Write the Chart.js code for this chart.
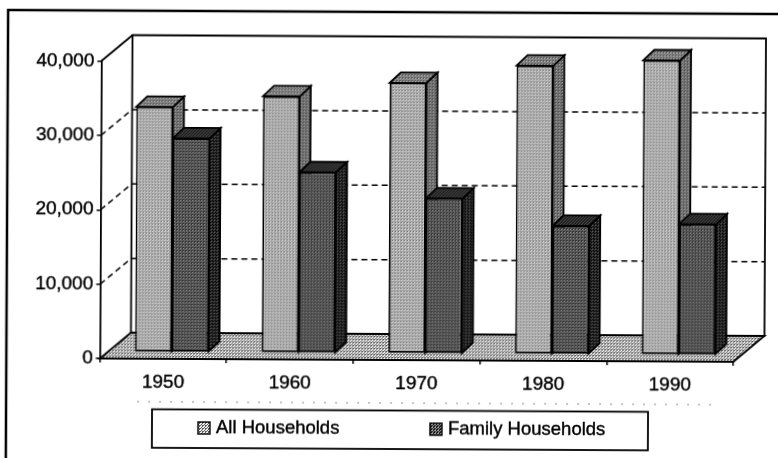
<!DOCTYPE html>
<html>
<head>
<meta charset="utf-8">
<title>Households</title>
<script src="https://cdn.jsdelivr.net/npm/chart.js@4"></script>
<style>
  html, body { margin: 0; padding: 0; background: #fff; overflow: hidden; }
  /* the page was scanned slightly crooked */
  #wrap { width: 778px; height: 460px; transform: rotate(0.3deg); }
</style>
</head>
<body>
<div id="wrap"><canvas id="chart" width="778" height="460"></canvas></div>
<script>
var years = ['1950', '1960', '1970', '1980', '1990'];
var allHouseholds = [33000, 34500, 36400, 38800, 39600];
var familyHouseholds = [28800, 24300, 20900, 17300, 17600];
var seriesNames = ['All Households', 'Family Households'];

var FONT = '"Liberation Sans", Arial, sans-serif';
var WALL = { dx: 31, dy: -26 };    // depth of the box
var ROW = { dx: 8.5, dy: -6.5 };   // where the bars stand on the floor
var BAR = { dx: 11, dy: -10.5 };   // depth of one bar

/* dithered greys, like the halftone of the scan. 3px cell: a 1px checker
   melts to flat grey once the page is rotated */
var CELL = [0, 7, 3, 6, 5, 2, 4, 1, 8];
function dither(level, ink, paper) {
  var c = document.createElement('canvas');
  c.width = c.height = 3;
  var x = c.getContext('2d');
  CELL.forEach(function (b, i) {
    x.fillStyle = (b + 0.5) / 9 < level ? ink : paper;
    x.fillRect(i % 3, Math.floor(i / 3), 1, 1);
  });
  return x.createPattern(c, 'repeat');
}
var fills = {
  allFront: dither(0.45, '#555', '#f2f2f2'),
  allTop: dither(0.55, '#333', '#ddd'),
  allSide: dither(0.55, '#222', '#d4d4d4'),
  famFront: dither(0.6, '#111', '#aaa'),
  famTop: dither(0.65, '#000', '#888'),
  famSide: dither(0.75, '#000', '#aaa'),
  floor: dither(0.45, '#555', '#f2f2f2')
};

function poly(ctx, pts, fill) {
  ctx.beginPath();
  pts.forEach(function (p, i) { if (i) ctx.lineTo(p[0], p[1]); else ctx.moveTo(p[0], p[1]); });
  ctx.closePath();
  if (fill) { ctx.fillStyle = fill; ctx.fill(); }
  ctx.stroke();
}
function line(ctx, x1, y1, x2, y2) {
  ctx.beginPath(); ctx.moveTo(x1, y1); ctx.lineTo(x2, y2); ctx.stroke();
}
/* side and top of one series, from its bar elements */
function extrude(ctx, meta, side, top) {
  ctx.strokeStyle = '#000';
  ctx.lineWidth = 1.8;
  meta.data.forEach(function (el) {
    var l = el.x - el.width / 2, r = el.x + el.width / 2, t = el.y, b = el.base;
    poly(ctx, [[r, t], [r + BAR.dx, t + BAR.dy], [r + BAR.dx, b + BAR.dy], [r, b]], side);
    poly(ctx, [[l, t], [l + BAR.dx, t + BAR.dy], [r + BAR.dx, t + BAR.dy], [r, t]], top);
  });
}

/* frame, box walls, floor and dashed gridlines, all taken from the scales */
var box3d = {
  id: 'box3d',
  beforeDatasetsDraw: function (chart) {
    var ctx = chart.ctx, a = chart.chartArea, yS = chart.scales.y;
    ctx.save();
    ctx.strokeStyle = '#000';
    ctx.lineWidth = 2.5;
    ctx.strokeRect(7, 12, 800, 500);

    ctx.lineWidth = 1.8;
    poly(ctx, [[a.left + WALL.dx, a.top + WALL.dy], [a.right + WALL.dx, a.top + WALL.dy],
      [a.right + WALL.dx, a.bottom + WALL.dy], [a.left + WALL.dx, a.bottom + WALL.dy]]);
    line(ctx, a.left, a.top, a.left + WALL.dx, a.top + WALL.dy);

    ctx.lineWidth = 1.5;
    ctx.setLineDash([6, 4]);
    yS.ticks.forEach(function (t) {
      if (t.value === 0 || t.value === yS.max) return;
      var y = yS.getPixelForValue(t.value);
      line(ctx, a.left, y, a.left + WALL.dx, y + WALL.dy);
      line(ctx, a.left + WALL.dx, y + WALL.dy, a.right + WALL.dx, y + WALL.dy);
    });
    ctx.setLineDash([]);

    ctx.lineWidth = 1.8;
    poly(ctx, [[a.left, a.bottom], [a.right, a.bottom],
      [a.right + WALL.dx, a.bottom + WALL.dy], [a.left + WALL.dx, a.bottom + WALL.dy]], fills.floor);

    // the light bars' sides go behind the dark bars, so they come first
    ctx.translate(ROW.dx, ROW.dy);
    extrude(ctx, chart.getDatasetMeta(0), fills.allSide, fills.allTop);
    ctx.restore();
  },
  beforeDatasetDraw: function (chart) {
    chart.ctx.save();
    chart.ctx.translate(ROW.dx, ROW.dy);
  },
  afterDatasetDraw: function (chart, args) {
    if (args.index === 1) extrude(chart.ctx, args.meta, fills.famSide, fills.famTop);
    chart.ctx.restore();
  },
  afterDraw: function (chart) {
    var ctx = chart.ctx;
    ctx.save();
    // legend box
    ctx.strokeStyle = '#000';
    ctx.lineWidth = 1.8;
    ctx.strokeRect(153, 410.5, 496, 38.5);
    ctx.font = '18.5px ' + FONT;
    ctx.textBaseline = 'middle';
    var items = [[199, fills.allFront], [431, fills.famFront]];
    items.forEach(function (it, i) {
      ctx.fillStyle = it[1];
      ctx.lineWidth = 1.4;
      ctx.fillRect(it[0], 423, 12, 12);
      ctx.strokeRect(it[0], 423, 12, 12);
      ctx.fillStyle = '#000';
      ctx.lineWidth = 0.4;
      ctx.fillText(seriesNames[i], it[0] + 18, 429);
      ctx.strokeText(seriesNames[i], it[0] + 18, 429);
    });
    // the dotted smudge left by the copier above the legend
    ctx.strokeStyle = '#888';
    ctx.lineWidth = 1;
    ctx.setLineDash([2, 9]);
    line(ctx, 138, 403, 720, 403);
    ctx.restore();
  }
};

new Chart(document.getElementById('chart'), {
  type: 'bar',
  data: {
    labels: years,
    datasets: [
      { label: seriesNames[0], data: allHouseholds, backgroundColor: fills.allFront },
      { label: seriesNames[1], data: familyHouseholds, backgroundColor: fills.famFront }
    ]
  },
  options: {
    responsive: false,
    animation: false,
    layout: { padding: { left: 0, right: 44, top: 62.5, bottom: 0 } },
    datasets: {
      bar: {
        categoryPercentage: 0.58, barPercentage: 1,
        borderColor: '#000', borderWidth: 1.8, borderSkipped: false
      }
    },
    plugins: { legend: { display: false }, tooltip: { enabled: false } },
    scales: {
      x: {
        afterFit: function (s) { s.height = 100; },
        border: { color: '#000', width: 1.8 },
        grid: { drawOnChartArea: false, color: '#000', tickLength: 4, lineWidth: 1.5 },
        ticks: {
          color: '#000', padding: 8, maxRotation: 0, textStrokeColor: '#000', textStrokeWidth: 0.4,
          font: { family: FONT, size: 19 }
        }
      },
      y: {
        min: 0, max: 40000,
        afterFit: function (s) { s.width = 100.5; },
        border: { color: '#000', width: 1.8 },
        grid: { drawOnChartArea: false, color: '#000', tickLength: 4, lineWidth: 1.5 },
        ticks: {
          stepSize: 10000, color: '#000', padding: 3, textStrokeColor: '#000', textStrokeWidth: 0.4,
          font: { family: FONT, size: 19 },
          callback: function (v) { return v.toLocaleString('en-US'); }
        }
      }
    }
  },
  plugins: [box3d]
});
</script>
</body>
</html>
